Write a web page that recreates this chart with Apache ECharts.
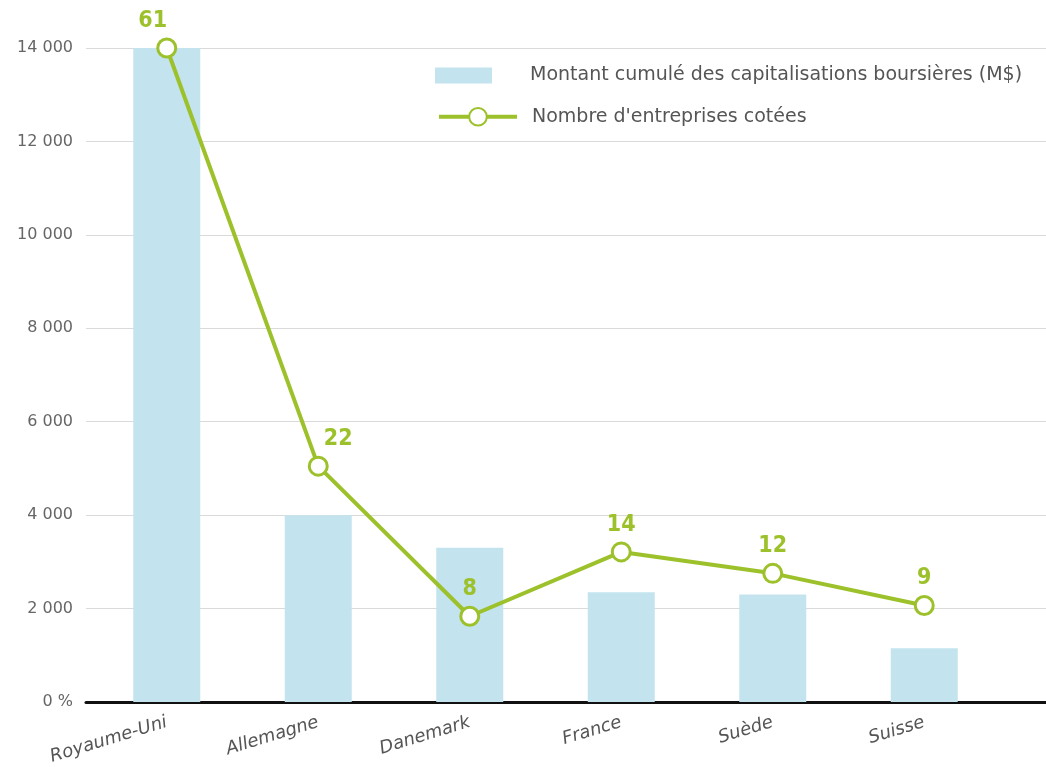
<!DOCTYPE html>
<html><head><meta charset="utf-8">
<script src="https://cdn.jsdelivr.net/npm/echarts@6/dist/echarts.min.js"></script>
<style>html,body{margin:0;padding:0;background:#fff}#c{width:1046px;height:767px}</style>
</head><body><div id="c"></div>
<script>
const categories = ['Royaume-Uni', 'Allemagne', 'Danemark', 'France', 'Suède', 'Suisse'];
const capitalisation = [14000, 4000, 3300, 2350, 2300, 1150];
const entreprises = [61, 22, 8, 14, 12, 9];
const yTicks = ['0 %', '2 000', '4 000', '6 000', '8 000', '10 000', '12 000', '14 000'];

const FONT = '"DejaVu Sans", sans-serif';
const FONT_C = '"DejaVu Sans Condensed", "DejaVu Sans", sans-serif';
const GREEN = '#9cc12b';
const BLUE = '#c3e3ee';
const labelOffsets = [[-14, 0], [20, 0], [0, 0], [0, 0], [0, 0], [0, 0]];

const chart = echarts.init(document.getElementById('c'));
chart.setOption({
  animation: false,
  backgroundColor: '#fff',
  grid: [
    {left: 86, right: 0, top: 48, bottom: 65},
    {left: 91, right: 46, top: 48, bottom: 65}
  ],
  legend: [
    {
      data: [{name: 'Montant cumulé des capitalisations boursières (M$)', icon: 'rect'}],
      left: 435, top: 66, padding: 0, itemWidth: 57, itemHeight: 16,
      textStyle: {fontFamily: FONT, fontSize: 19, color: '#555', padding: [0, 0, 0, 33]}
    },
    {
      data: ['Nombre d\'entreprises cotées'],
      left: 437, top: 107, padding: 0, itemWidth: 78, itemHeight: 22,
      lineStyle: {width: 4},
      textStyle: {fontFamily: FONT, fontSize: 19, color: '#555', padding: [0, 0, 0, 10]}
    }
  ],
  xAxis: [
    {
      gridIndex: 0, type: 'value', min: 0, max: 1,
      axisLabel: {show: false}, axisTick: {show: false}, splitLine: {show: false},
      axisLine: {show: true, lineStyle: {color: '#111', width: 3}}
    },
    {
      gridIndex: 1, type: 'category', data: categories,
      axisLine: {show: false}, axisTick: {show: false},
      axisLabel: {rotate: 17, margin: 20, fontFamily: FONT, fontSize: 18, fontStyle: 'italic', color: '#555', interval: 0}
    }
  ],
  yAxis: [
    {
      gridIndex: 0, type: 'value', min: 0, max: 14000, interval: 2000,
      axisLine: {show: false}, axisTick: {show: false},
      axisLabel: {
        margin: 13, fontFamily: FONT, fontSize: 16, color: '#666',
        formatter: (v) => yTicks[Math.round(v / 2000)]
      },
      splitLine: {lineStyle: {color: '#dadada', width: 1}}
    },
    {gridIndex: 1, type: 'value', min: 0, max: 14000, show: false},
    {gridIndex: 1, type: 'value', min: 0, max: 61, show: false}
  ],
  series: [
    {
      name: 'Montant cumulé des capitalisations boursières (M$)',
      type: 'bar', xAxisIndex: 1, yAxisIndex: 1,
      data: capitalisation, barWidth: 67,
      itemStyle: {color: BLUE}
    },
    {
      name: 'Nombre d\'entreprises cotées',
      type: 'line', xAxisIndex: 1, yAxisIndex: 2,
      data: entreprises.map((v, i) => ({value: v, label: {offset: labelOffsets[i]}})),
      symbol: 'circle', symbolSize: 18,
      lineStyle: {color: GREEN, width: 4},
      itemStyle: {color: '#fff', borderColor: GREEN, borderWidth: 3},
      label: {
        show: true, position: 'top', distance: 5,
        fontFamily: FONT_C, fontSize: 23, fontWeight: 'bold', color: GREEN
      },
      z: 5
    }
  ]
});
</script>
</body></html>
